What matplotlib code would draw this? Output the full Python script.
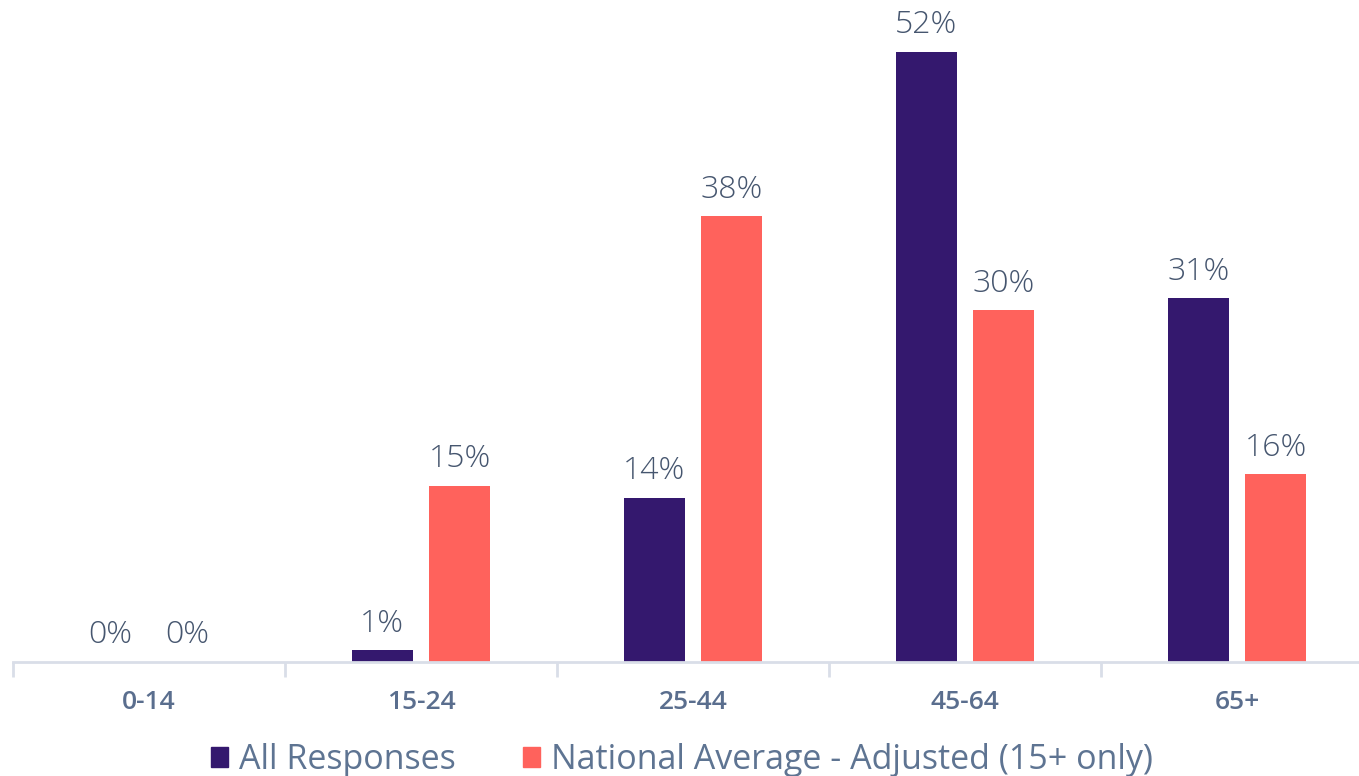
import numpy as np
import matplotlib.pyplot as plt
from matplotlib.patches import Patch

# data
categories = ['0-14', '15-24', '25-44', '45-64', '65+']
all_responses = [0, 1, 14, 52, 31]
national_avg = [0, 15, 38, 30, 16]
series_names = ['All Responses', 'National Average - Adjusted (15+ only)']

purple = '#34186E'
coral = '#FF625C'
axis_col = '#D9DEE8'

plt.rcParams['font.family'] = ['Open Sans', 'DejaVu Sans']

fig = plt.figure(figsize=(13.59, 7.76), dpi=100)
# the plot area runs past the right edge of the picture, as in the original
ax = fig.add_axes([13 / 1359, 114 / 776, 1360 / 1359, 662 / 776])

x = np.arange(len(categories))
w = 0.224
off = 0.142
ax.bar(x - off, all_responses, w, color=purple)
ax.bar(x + off, national_avg, w, color=coral)

for i in range(len(categories)):
    ax.text(x[i] - off, all_responses[i] + 0.9, f'{all_responses[i]}%', ha='center', va='bottom',
            fontsize=23, color='#46566F', fontweight='light')
    ax.text(x[i] + off, national_avg[i] + 0.9, f'{national_avg[i]}%', ha='center', va='bottom',
            fontsize=23, color='#46566F', fontweight='light')

ax.set_xlim(-0.5, len(categories) - 0.5)
ax.set_ylim(0, 662 / 11.73)
for s in ['top', 'right', 'left']:
    ax.spines[s].set_visible(False)
ax.spines['bottom'].set_color(axis_col)
ax.spines['bottom'].set_linewidth(2)
ax.set_yticks([])

ax.set_xticks(x)
ax.set_xticklabels(categories, fontsize=19, color='#5A6E8E', fontweight='semibold')
ax.tick_params(axis='x', which='major', length=0, pad=20)
ax.set_xticks(np.arange(len(categories) + 1) - 0.5, minor=True)
ax.tick_params(axis='x', which='minor', length=11, width=2, color=axis_col, direction='out')

handles = [Patch(color=purple), Patch(color=coral)]
fig.legend(handles, series_names, loc='center', bbox_to_anchor=(682 / 1359, 1 - 760 / 776),
           ncol=2, frameon=False, fontsize=24.5, labelcolor='#5E7492',
           handlelength=0.5, handleheight=0.5, handletextpad=0.3, columnspacing=2.0)

fig.savefig('out.png', dpi=100)
